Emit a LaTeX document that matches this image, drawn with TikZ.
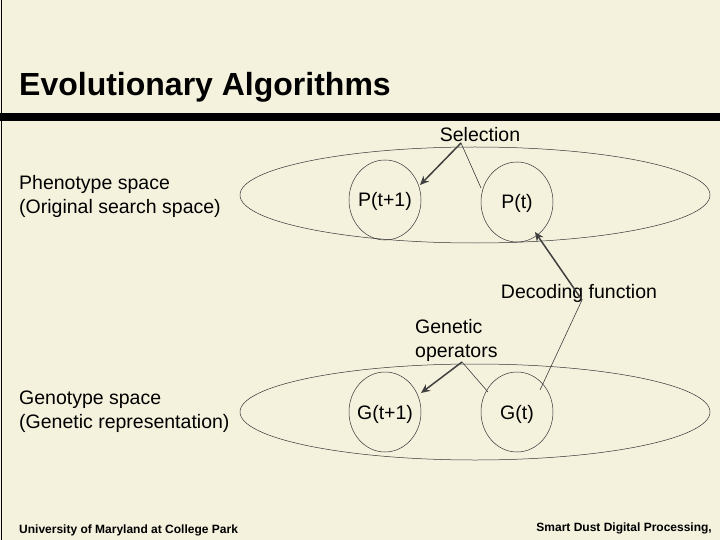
\documentclass[tikz,border=0pt]{standalone}
\usepackage{fontspec}
\setmainfont{Liberation Sans}
\usetikzlibrary{shapes.geometric,arrows.meta}
\begin{document}
\begin{tikzpicture}[x=1pt,y=-1pt,
  lbl/.style={font=\fontsize{19.5}{24}\selectfont,align=left,inner sep=0pt},
  ring/.style={draw=black!80,line width=0.5pt},
  conn/.style={draw=black!75,line width=1.5pt},
  thin/.style={draw=black!75,line width=0.6pt},
  tip/.style={-{Stealth[length=9pt,width=8pt]}}]
\fill[fill={rgb,255:red,244;green,241;blue,221}] (0,0) rectangle (720,540);
\useasboundingbox (0,0) rectangle (720,540);
\draw[line width=1pt] (1,0) -- (1,540);
\fill (0,113) rectangle (720,121);
\node[anchor=west,inner sep=0pt,font=\fontsize{32}{36}\selectfont\bfseries] (title) at (19,87) {Evolutionary Algorithms};
% top
\draw[ring] (475,195) ellipse (235 and 48);
\node[ring,ellipse,minimum width=72pt,minimum height=80pt,inner sep=0pt] (p1) at (385,200) {};
\node[ring,ellipse,minimum width=72pt,minimum height=80pt,inner sep=0pt] (p0) at (517,202) {};
\node[lbl,anchor=base] at ([yshift=-7]p1.center) {P(t+1)};
\node[lbl,anchor=base] at ([yshift=-7]p0.center) {P(t)};
\node[lbl,anchor=west] (ph) at (19,196) {Phenotype space\\(Original search space)};
\node[lbl] (sel) at (480,135) {Selection};
\coordinate (sp) at (461,143);
\coordinate (ps) at (481,188);
\draw[thin] (ps) -- (sp);
\draw[conn,tip] (sp) -- (420,185);
% bottom
\draw[ring] (475,412) ellipse (235 and 48);
\node[ring,ellipse,minimum width=72pt,minimum height=80pt,inner sep=0pt] (g1) at (385,412) {};
\node[ring,ellipse,minimum width=72pt,minimum height=80pt,inner sep=0pt] (g0) at (517,412) {};
\node[lbl,anchor=base] at ([yshift=-7]g1.center) {G(t+1)};
\node[lbl,anchor=base] at ([yshift=-7]g0.center) {G(t)};
\node[lbl,anchor=west] (gs) at (19,412) {Genotype space\\(Genetic representation)};
\node[lbl,anchor=west] (go) at (415,340) {Genetic\\operators};
\coordinate (gp) at (462,362);
\draw[thin] (488,392) -- (gp);
\draw[conn,tip] (gp) -- (421,393);
\node[lbl] (dec) at (579,293) {Decoding function};
\coordinate (dp) at (582,300);
\draw[thin] (540,390) -- (dp);
\draw[conn,tip] (dp) -- (535,232);
% footers
\node[anchor=west,inner sep=0pt,font=\fontsize{12}{14}\selectfont\bfseries] (f1) at (19,530) {University of Maryland at College Park};
\node[anchor=east,inner sep=0pt,font=\fontsize{12}{14}\selectfont\bfseries] (f2) at (712,528) {Smart Dust Digital Processing,};
\end{tikzpicture}
\end{document}
